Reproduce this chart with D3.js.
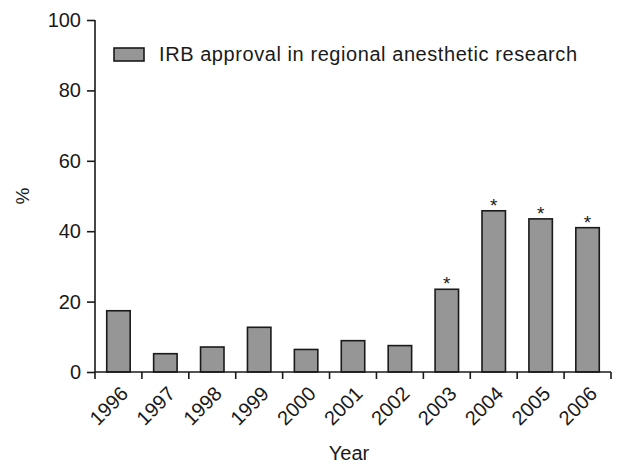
<!DOCTYPE html>
<html>
<head>
<meta charset="utf-8">
<script src="https://cdn.jsdelivr.net/npm/d3@7/dist/d3.min.js"></script>
<style>
  html, body { margin: 0; padding: 0; background: #fff; }
  svg { display: block; font-family: Arial, "Liberation Sans", Helvetica, sans-serif; }
</style>
</head>
<body>
<svg id="chart" width="619" height="464"></svg>
<script>
// Share of regional anesthesia studies reporting IRB approval, by year
const years = ["1996", "1997", "1998", "1999", "2000", "2001", "2002", "2003", "2004", "2005", "2006"];
const approval = [17.4, 5.2, 7.1, 12.7, 6.4, 8.9, 7.5, 23.5, 45.8, 43.5, 41.0];
const significant = ["2003", "2004", "2005", "2006"];
const yTicks = [0, 20, 40, 60, 80, 100];
const seriesName = "IRB approval in regional anesthetic research";

const svg = d3.select("#chart");
const plotLeft = 95, plotRight = 611, plotTop = 20, plotBottom = 372;
const ink = "#1a1a1a";
const barFill = "#969696";

const x = d3.scaleBand().domain(years).range([plotLeft, plotRight]).paddingInner(0.5).paddingOuter(0.25);
const y = d3.scaleLinear().domain([0, 100]).range([plotBottom, plotTop]);

// bars
svg.append("g").selectAll("rect")
  .data(years.map((yr, i) => ({ yr, v: approval[i] })))
  .join("rect")
  .attr("x", d => x(d.yr))
  .attr("y", d => y(d.v))
  .attr("width", x.bandwidth())
  .attr("height", d => y(0) - y(d.v))
  .attr("fill", barFill)
  .attr("stroke", ink)
  .attr("stroke-width", 1.6);

// significance markers
svg.append("g").selectAll("text")
  .data(years.map((yr, i) => ({ yr, v: approval[i] })).filter(d => significant.includes(d.yr)))
  .join("text")
  .attr("x", d => x(d.yr) + x.bandwidth() / 2)
  .attr("y", d => y(d.v) + 1)
  .attr("text-anchor", "middle")
  .attr("font-size", 19)
  .attr("fill", ink)
  .text("*");

// y axis
const yAxis = svg.append("g")
  .attr("transform", `translate(${plotLeft},0)`)
  .call(d3.axisLeft(y).tickValues(yTicks).tickSize(8).tickPadding(6));
yAxis.select(".domain").remove();
yAxis.selectAll(".tick line").attr("stroke", ink).attr("stroke-width", 1.6);
yAxis.selectAll(".tick text").attr("font-size", 20).attr("fill", ink)
  .attr("font-family", "Arial, 'Liberation Sans', sans-serif");
svg.append("line")
  .attr("x1", plotLeft).attr("x2", plotLeft)
  .attr("y1", y(100)).attr("y2", plotBottom + 7)
  .attr("stroke", ink).attr("stroke-width", 1.6);

// x axis: ticks sit at the category boundaries
const step = x.step();
const bounds = d3.range(years.length + 1).map(i => plotLeft + i * step);
svg.append("line")
  .attr("x1", plotLeft).attr("x2", plotRight)
  .attr("y1", plotBottom).attr("y2", plotBottom)
  .attr("stroke", ink).attr("stroke-width", 1.6);
svg.append("g").selectAll("line")
  .data(bounds.slice(1))
  .join("line")
  .attr("x1", d => d).attr("x2", d => d)
  .attr("y1", plotBottom).attr("y2", plotBottom + 7)
  .attr("stroke", ink).attr("stroke-width", 1.6);

// rotated year labels
svg.append("g").selectAll("text")
  .data(years)
  .join("text")
  .attr("transform", d => `translate(${x(d) + x.bandwidth() / 2 + 6},${plotBottom + 18}) rotate(-45)`)
  .attr("text-anchor", "end")
  .attr("dy", "0.35em")
  .attr("font-size", 20)
  .attr("fill", ink)
  .text(d => d);

// axis titles
svg.append("text")
  .attr("x", 349)
  .attr("y", 460)
  .attr("text-anchor", "middle")
  .attr("font-size", 20)
  .attr("fill", ink)
  .text("Year");
svg.append("text")
  .attr("transform", `translate(29,${(plotTop + plotBottom) / 2}) rotate(-90)`)
  .attr("text-anchor", "middle")
  .attr("font-size", 19)
  .attr("fill", ink)
  .text("%");

// legend
const lg = svg.append("g").attr("transform", "translate(114,48)");
lg.append("rect").attr("width", 30).attr("height", 13)
  .attr("fill", barFill).attr("stroke", ink).attr("stroke-width", 1.6);
lg.append("text").attr("x", 45).attr("y", 13)
  .attr("font-size", 20).attr("textLength", 418).attr("lengthAdjust", "spacing")
  .attr("fill", ink).text(seriesName);
</script>
</body>
</html>
